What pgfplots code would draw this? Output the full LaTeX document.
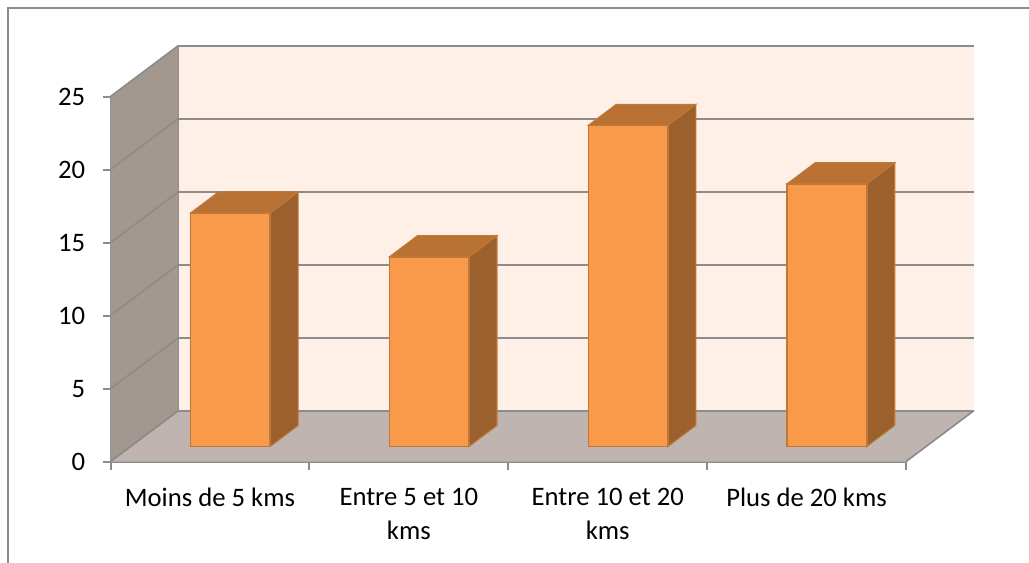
\documentclass[border=0pt]{standalone}
\usepackage{pgfplots}
\pgfplotsset{compat=1.18}
\usepackage{fontspec}
\setmainfont{Carlito}
\definecolor{wall}{HTML}{FEEFE7}
\definecolor{lwall}{HTML}{A2988F}
\definecolor{floorc}{HTML}{BFB4AF}
\definecolor{gridc}{HTML}{8C8C8C}
\definecolor{barf}{HTML}{F9994A}
\definecolor{bare}{HTML}{C0783A}
\definecolor{bars}{HTML}{9C602C}
\definecolor{bart}{HTML}{BA7134}
\begin{document}
\begin{tikzpicture}
\path[use as bounding box] (0,0) rectangle (771.75pt,422.25pt);
\draw[gridc,line width=1.5pt] (6pt,0pt) -- (6pt,416.2pt) -- (771.75pt,416.2pt);
\begin{axis}[
  at={(82.9pt,76.1pt)},anchor=south west,
  scale only axis,width=596.6pt,height=273.75pt,
  xmin=0,xmax=4,ymin=0,ymax=25,clip=false,
  axis lines*=left,
  axis line style={-,gridc,line width=1.5pt},
  xtick={0.5,1.5,2.5,3.5},
  xticklabels={Moins de 5 kms,Entre 5 et 10\\kms,Entre 10 et 20\\kms,Plus de 20 kms},
  minor xtick={0,1,2,3,4},
  ytick={0,5,10,15,20,25},
  major x tick style={draw=none},
  minor x tick style={gridc,line width=1.5pt},
  y tick style={gridc,line width=1.5pt},
  minor tick length=6pt,
  tick align=outside,tick pos=left,
  major tick length=6pt,
  /pgf/number format/assume math mode=true,
  xticklabel style={align=center,font=\fontsize{20}{25.4}\selectfont,yshift=-10.6pt,text depth=0pt},
  yticklabel style={font=\fontsize{20}{22}\selectfont,xshift=-9.5pt,yshift=-0.6pt},
]
% back wall
\addplot[fill=wall,draw=none] coordinates {(0.3417,3.49)(4.3417,3.49)(4.3417,28.49)(0.3417,28.49)} -- cycle;
% left wall
\addplot[fill=lwall,draw=none] coordinates {(0,0)(0.3417,3.49)(0.3417,28.49)(0,25)} -- cycle;
% floor
\addplot[fill=floorc,draw=none] coordinates {(0,0)(4,0)(4.3417,3.49)(0.3417,3.49)} -- cycle;
% grid on back wall
\addplot[gridc,line width=1.5pt] coordinates {(0.3417,8.49)(4.3417,8.49)};
\addplot[gridc,line width=1.5pt] coordinates {(0.3417,13.49)(4.3417,13.49)};
\addplot[gridc,line width=1.5pt] coordinates {(0.3417,18.49)(4.3417,18.49)};
\addplot[gridc,line width=1.5pt] coordinates {(0.3417,23.49)(4.3417,23.49)};
\addplot[gridc,line width=1.5pt] coordinates {(0.3417,28.49)(4.3417,28.49)};
\addplot[gridc,line width=1.5pt] coordinates {(0.3417,3.49)(4.3417,3.49)};
% grid on left wall
\addplot[gridc,line width=1.3pt] coordinates {(0,0)(0.3417,3.49)};
\addplot[gridc,line width=1.3pt] coordinates {(0,5)(0.3417,8.49)};
\addplot[gridc,line width=1.3pt] coordinates {(0,10)(0.3417,13.49)};
\addplot[gridc,line width=1.3pt] coordinates {(0,15)(0.3417,18.49)};
\addplot[gridc,line width=1.3pt] coordinates {(0,20)(0.3417,23.49)};
\addplot[gridc,line width=1.3pt] coordinates {(0,25)(0.3417,28.49)};
\addplot[gridc,line width=1.3pt] coordinates {(0.3417,3.49)(0.3417,28.49)};
\addplot[gridc,line width=1.3pt] coordinates {(4,0)(4.3417,3.49)};
\end{axis}
\begin{axis}[
  at={(98.2pt,87.35pt)},anchor=south west,
  scale only axis,width=596.6pt,height=273.75pt,
  xmin=0,xmax=4,ymin=0,ymax=25,clip=false,
  hide axis,
]
% sides
\addplot[fill=bars,draw=bare,line width=0.8pt] coordinates {(0.7,0)(0.8407,1.44)(0.8407,17.44)(0.7,16)} -- cycle;
\addplot[fill=bars,draw=bare,line width=0.8pt] coordinates {(1.7,0)(1.8407,1.44)(1.8407,14.44)(1.7,13)} -- cycle;
\addplot[fill=bars,draw=bare,line width=0.8pt] coordinates {(2.7,0)(2.8407,1.44)(2.8407,23.44)(2.7,22)} -- cycle;
\addplot[fill=bars,draw=bare,line width=0.8pt] coordinates {(3.7,0)(3.8407,1.44)(3.8407,19.44)(3.7,18)} -- cycle;
% tops
\addplot[fill=bart,draw=bare,line width=0.8pt] coordinates {(0.3,16)(0.4407,17.44)(0.8407,17.44)(0.7,16)} -- cycle;
\addplot[fill=bart,draw=bare,line width=0.8pt] coordinates {(1.3,13)(1.4407,14.44)(1.8407,14.44)(1.7,13)} -- cycle;
\addplot[fill=bart,draw=bare,line width=0.8pt] coordinates {(2.3,22)(2.4407,23.44)(2.8407,23.44)(2.7,22)} -- cycle;
\addplot[fill=bart,draw=bare,line width=0.8pt] coordinates {(3.3,18)(3.4407,19.44)(3.8407,19.44)(3.7,18)} -- cycle;
% fronts
\addplot[ybar,bar width=59.7pt,bar shift=0pt,fill=barf,draw=bare,line width=1.2pt] coordinates {(0.5,16)(1.5,13)(2.5,22)(3.5,18)};
\end{axis}
\end{tikzpicture}
\end{document}
